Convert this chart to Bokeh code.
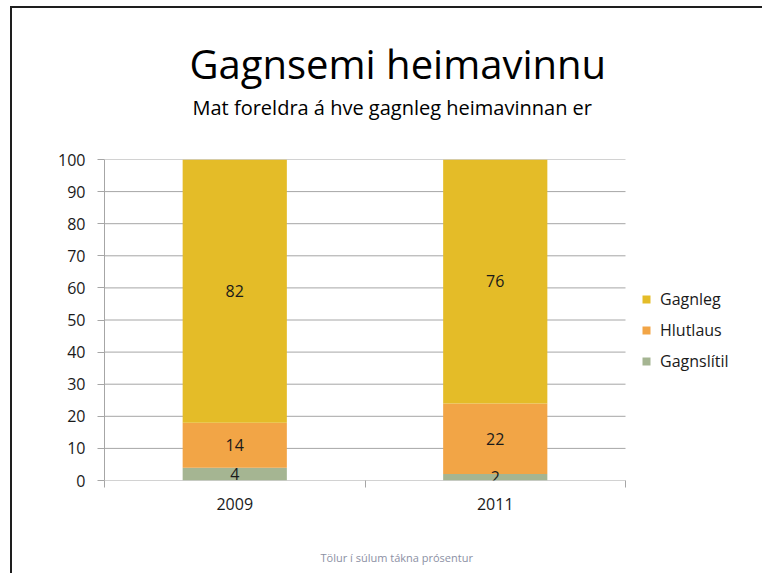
from bokeh.plotting import figure
from bokeh.models import (ColumnDataSource, FixedTicker, LabelSet, Legend, LegendItem, Range1d, Title)
from bokeh.core.properties import value
from bokeh.embed import file_html
from bokeh.resources import INLINE

# ---- data ----
years = ["2009", "2011"]
gagnslitil = [4, 2]
hlutlaus = [14, 22]
gagnleg = [82, 76]
series_names = ["Gagnslítil", "Hlutlaus", "Gagnleg"]
colors = ["#A5B592", "#F2A546", "#E4BC28"]
y_ticks = [0, 10, 20, 30, 40, 50, 60, 70, 80, 90, 100]
title_text = "Gagnsemi heimavinnu"
subtitle_text = "Mat foreldra á hve gagnleg heimavinnan er"
footnote_text = "Tölur í súlum tákna prósentur"

FONT = "Open Sans"
GRID = "#a6a6a6"
TXT = "#1a1a1a"
FS = "16px"

n = len(years)
xpos = [i + 0.5 for i in range(n)]
b1 = [0] * n
t1 = [b + v for b, v in zip(b1, gagnslitil)]
t2 = [b + v for b, v in zip(t1, hlutlaus)]
t3 = [b + v for b, v in zip(t2, gagnleg)]

src = ColumnDataSource(dict(
    x=xpos,
    b1=b1, t1=t1, t2=t2, t3=t3,
    m1=[(a + b) / 2 for a, b in zip(b1, t1)],
    m2=[(a + b) / 2 for a, b in zip(t1, t2)],
    m3=[(a + b) / 2 for a, b in zip(t2, t3)],
    l1=[str(v) for v in gagnslitil],
    l2=[str(v) for v in hlutlaus],
    l3=[str(v) for v in gagnleg],
))

# frame extends to the right to hold the legend; category area is 0..n
x_end = n * (752 - 104) / (625 - 104)
p = figure(width=762, height=573, output_backend="svg", toolbar_location=None,
           x_range=Range1d(0, x_end), y_range=Range1d(0, 100),
           min_border_left=104, min_border_right=10, min_border_top=159, min_border_bottom=93)
p.outline_line_color = None
p.background_fill_color = "white"
p.border_fill_color = None
# outer chart border (left and top edges) drawn as CSS background behind the transparent canvas border
p.styles = {
    "background": ("linear-gradient(#1e1e1e,#1e1e1e) 10px 6px / 2px calc(100% - 6px) no-repeat, "
                   "linear-gradient(#1e1e1e,#1e1e1e) 10px 6px / calc(100% - 10px) 2px no-repeat, #ffffff"),
}

# gridlines only across the category area
p.segment(x0=[0] * len(y_ticks), x1=[n] * len(y_ticks), y0=y_ticks, y1=y_ticks,
          line_color=GRID, line_width=1)

r1 = p.vbar(x="x", bottom="b1", top="t1", width=0.4, source=src, fill_color=colors[0], line_color=None)
r2 = p.vbar(x="x", bottom="t1", top="t2", width=0.4, source=src, fill_color=colors[1], line_color=None)
r3 = p.vbar(x="x", bottom="t2", top="t3", width=0.4, source=src, fill_color=colors[2], line_color=None)

for m, l in (("m1", "l1"), ("m2", "l2"), ("m3", "l3")):
    p.add_layout(LabelSet(x="x", y=m, text=l, source=src, text_align="center", text_baseline="middle",
                          text_font=value(FONT), text_font_size=value(FS), text_color=TXT))

# axes
p.xaxis.ticker = FixedTicker(ticks=xpos, minor_ticks=list(range(n + 1)))
p.xaxis.major_label_overrides = {x: y for x, y in zip(xpos, years)}
p.xaxis.major_tick_line_color = None
p.xaxis.minor_tick_in = 0
p.xaxis.minor_tick_out = 7
p.xaxis.minor_tick_line_color = GRID
p.xaxis.axis_line_color = None
p.xaxis.major_label_text_font = FONT
p.xaxis.major_label_text_font_size = FS
p.xaxis.major_label_text_color = TXT
p.xaxis.major_label_standoff = 10

p.yaxis.ticker = FixedTicker(ticks=y_ticks)
p.yaxis.minor_tick_line_color = None
p.yaxis.major_tick_in = 0
p.yaxis.major_tick_out = 7
p.yaxis.major_tick_line_color = GRID
p.yaxis.axis_line_color = GRID
p.yaxis.major_label_text_font = FONT
p.yaxis.major_label_text_font_size = FS
p.yaxis.major_label_text_color = TXT
p.yaxis.major_label_standoff = 12

p.xgrid.grid_line_color = None
p.ygrid.grid_line_color = None

# legend inside the (widened) frame
legend = Legend(items=[LegendItem(label=series_names[2], renderers=[r3]),
                       LegendItem(label=series_names[1], renderers=[r2]),
                       LegendItem(label=series_names[0], renderers=[r1])],
                location=(537, 108), border_line_color=None, background_fill_alpha=0,
                label_text_font=FONT, label_text_font_size=FS, label_text_color=TXT,
                glyph_width=10, glyph_height=10, label_height=20, spacing=9,
                label_standoff=9, padding=0, margin=0)
p.add_layout(legend, "center")

# titles: spacer nearest the frame, then subtitle, then title
p.add_layout(Title(text=" ", standoff=36, text_font=FONT, text_font_size="1px"), "above")
p.add_layout(Title(text=subtitle_text, align="left", offset=88, standoff=0,
                   text_font=FONT, text_font_size="20px", text_font_style="normal", text_color="#000000"), "above")
p.add_layout(Title(text=title_text, align="left", offset=85, standoff=2,
                   text_font=FONT, text_font_size="40px", text_font_style="normal", text_color="#000000"), "above")
# footnote below the x axis
p.add_layout(Title(text=" ", standoff=32, text_font=FONT, text_font_size="1px"), "below")
p.add_layout(Title(text=footnote_text, align="left", offset=216, standoff=0,
                   text_font=FONT, text_font_size="11px", text_font_style="normal", text_color="#8c90a4"), "below")

open("out.html", "w").write(file_html(p, INLINE))
